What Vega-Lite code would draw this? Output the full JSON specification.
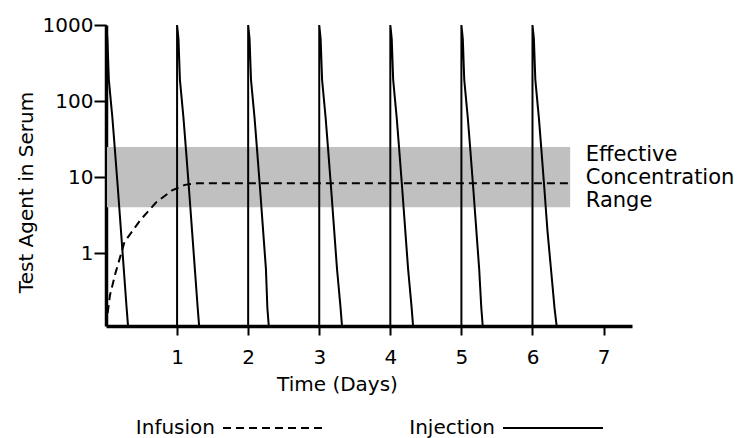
{
  "$schema": "https://vega.github.io/schema/vega-lite/v6.json",
  "width": 526,
  "height": 301,
  "autosize": {"type": "none"},
  "padding": {"left": 106, "top": 25, "right": 105, "bottom": 112},
  "background": "white",
  "config": {
    "view": {"stroke": null},
    "font": "DejaVu Sans",
    "axis": {
      "grid": false,
      "domainColor": "black",
      "domainWidth": 3.5,
      "tickColor": "black",
      "tickWidth": 2,
      "labelFontSize": 20,
      "labelColor": "black",
      "titleFontSize": 20,
      "titleFontWeight": "normal",
      "titleColor": "black"
    }
  },
  "datasets": {
    "band": [{"start": 0, "end": 6.53, "low": 4.0, "high": 24.8}],
    "note": [{"day": 6.75, "value": 19.5, "label": "Effective\nConcentration\nRange"}],
    "curves": [
      {"series": "Infusion", "dose": "I", "day": 0, "value": 0.11},
      {"series": "Infusion", "dose": "I", "day": 0.056, "value": 0.28},
      {"series": "Infusion", "dose": "I", "day": 0.134, "value": 0.55},
      {"series": "Infusion", "dose": "I", "day": 0.26, "value": 1.4},
      {"series": "Infusion", "dose": "I", "day": 0.48, "value": 2.7},
      {"series": "Infusion", "dose": "I", "day": 0.70, "value": 4.6},
      {"series": "Infusion", "dose": "I", "day": 0.93, "value": 6.7},
      {"series": "Infusion", "dose": "I", "day": 1.11, "value": 7.9},
      {"series": "Infusion", "dose": "I", "day": 1.29, "value": 8.3},
      {"series": "Infusion", "dose": "I", "day": 6.53, "value": 8.3},

      {"series": "Injection", "dose": "0", "day": 0, "value": 0.11},
      {"series": "Injection", "dose": "0", "day": 0, "value": 1000},
      {"series": "Injection", "dose": "0", "day": 0.02, "value": 650},
      {"series": "Injection", "dose": "0", "day": 0.04, "value": 190},
      {"series": "Injection", "dose": "0", "day": 0.09, "value": 60},
      {"series": "Injection", "dose": "0", "day": 0.13, "value": 20},
      {"series": "Injection", "dose": "0", "day": 0.17, "value": 6.5},
      {"series": "Injection", "dose": "0", "day": 0.21, "value": 2},
      {"series": "Injection", "dose": "0", "day": 0.25, "value": 0.62},
      {"series": "Injection", "dose": "0", "day": 0.29, "value": 0.19},
      {"series": "Injection", "dose": "0", "day": 0.31, "value": 0.11},

      {"series": "Injection", "dose": "1", "day": 1, "value": 0.11},
      {"series": "Injection", "dose": "1", "day": 1, "value": 1000},
      {"series": "Injection", "dose": "1", "day": 1.02, "value": 650},
      {"series": "Injection", "dose": "1", "day": 1.04, "value": 190},
      {"series": "Injection", "dose": "1", "day": 1.09, "value": 60},
      {"series": "Injection", "dose": "1", "day": 1.13, "value": 20},
      {"series": "Injection", "dose": "1", "day": 1.17, "value": 6.5},
      {"series": "Injection", "dose": "1", "day": 1.21, "value": 2},
      {"series": "Injection", "dose": "1", "day": 1.25, "value": 0.62},
      {"series": "Injection", "dose": "1", "day": 1.29, "value": 0.19},
      {"series": "Injection", "dose": "1", "day": 1.31, "value": 0.11},

      {"series": "Injection", "dose": "2", "day": 2, "value": 0.11},
      {"series": "Injection", "dose": "2", "day": 2, "value": 1000},
      {"series": "Injection", "dose": "2", "day": 2.02, "value": 650},
      {"series": "Injection", "dose": "2", "day": 2.04, "value": 190},
      {"series": "Injection", "dose": "2", "day": 2.09, "value": 60},
      {"series": "Injection", "dose": "2", "day": 2.13, "value": 20},
      {"series": "Injection", "dose": "2", "day": 2.17, "value": 6.5},
      {"series": "Injection", "dose": "2", "day": 2.21, "value": 2},
      {"series": "Injection", "dose": "2", "day": 2.25, "value": 0.62},
      {"series": "Injection", "dose": "2", "day": 2.27, "value": 0.19},
      {"series": "Injection", "dose": "2", "day": 2.29, "value": 0.11},

      {"series": "Injection", "dose": "3", "day": 3, "value": 0.11},
      {"series": "Injection", "dose": "3", "day": 3, "value": 1000},
      {"series": "Injection", "dose": "3", "day": 3.02, "value": 650},
      {"series": "Injection", "dose": "3", "day": 3.04, "value": 190},
      {"series": "Injection", "dose": "3", "day": 3.09, "value": 60},
      {"series": "Injection", "dose": "3", "day": 3.13, "value": 20},
      {"series": "Injection", "dose": "3", "day": 3.17, "value": 6.5},
      {"series": "Injection", "dose": "3", "day": 3.21, "value": 2},
      {"series": "Injection", "dose": "3", "day": 3.25, "value": 0.62},
      {"series": "Injection", "dose": "3", "day": 3.30, "value": 0.19},
      {"series": "Injection", "dose": "3", "day": 3.32, "value": 0.11},

      {"series": "Injection", "dose": "4", "day": 4, "value": 0.11},
      {"series": "Injection", "dose": "4", "day": 4, "value": 1000},
      {"series": "Injection", "dose": "4", "day": 4.02, "value": 650},
      {"series": "Injection", "dose": "4", "day": 4.04, "value": 190},
      {"series": "Injection", "dose": "4", "day": 4.09, "value": 60},
      {"series": "Injection", "dose": "4", "day": 4.13, "value": 20},
      {"series": "Injection", "dose": "4", "day": 4.17, "value": 6.5},
      {"series": "Injection", "dose": "4", "day": 4.21, "value": 2},
      {"series": "Injection", "dose": "4", "day": 4.25, "value": 0.62},
      {"series": "Injection", "dose": "4", "day": 4.30, "value": 0.19},
      {"series": "Injection", "dose": "4", "day": 4.32, "value": 0.11},

      {"series": "Injection", "dose": "5", "day": 5, "value": 0.11},
      {"series": "Injection", "dose": "5", "day": 5, "value": 1000},
      {"series": "Injection", "dose": "5", "day": 5.02, "value": 650},
      {"series": "Injection", "dose": "5", "day": 5.04, "value": 190},
      {"series": "Injection", "dose": "5", "day": 5.09, "value": 60},
      {"series": "Injection", "dose": "5", "day": 5.13, "value": 20},
      {"series": "Injection", "dose": "5", "day": 5.17, "value": 6.5},
      {"series": "Injection", "dose": "5", "day": 5.21, "value": 2},
      {"series": "Injection", "dose": "5", "day": 5.25, "value": 0.62},
      {"series": "Injection", "dose": "5", "day": 5.28, "value": 0.19},
      {"series": "Injection", "dose": "5", "day": 5.30, "value": 0.11},

      {"series": "Injection", "dose": "6", "day": 6, "value": 0.11},
      {"series": "Injection", "dose": "6", "day": 6, "value": 1000},
      {"series": "Injection", "dose": "6", "day": 6.02, "value": 650},
      {"series": "Injection", "dose": "6", "day": 6.04, "value": 190},
      {"series": "Injection", "dose": "6", "day": 6.09, "value": 60},
      {"series": "Injection", "dose": "6", "day": 6.13, "value": 20},
      {"series": "Injection", "dose": "6", "day": 6.17, "value": 6.5},
      {"series": "Injection", "dose": "6", "day": 6.21, "value": 2},
      {"series": "Injection", "dose": "6", "day": 6.26, "value": 0.62},
      {"series": "Injection", "dose": "6", "day": 6.31, "value": 0.19},
      {"series": "Injection", "dose": "6", "day": 6.34, "value": 0.11}
    ]
  },
  "layer": [
    {
      "data": {"name": "band"},
      "mark": {"type": "rect", "color": "#c0c0c0"},
      "encoding": {
        "x": {
          "field": "start",
          "type": "quantitative",
          "scale": {"domain": [0, 7.4], "nice": false, "zero": false},
          "axis": {
            "values": [1, 2, 3, 4, 5, 6, 7],
            "format": "d",
            "title": "Time (Days)",
            "tickSize": 9,
            "labelPadding": 12,
            "titleX": 231,
            "titleY": 58,
            "titleBaseline": "middle"
          }
        },
        "x2": {"field": "end"},
        "y": {
          "field": "low",
          "type": "quantitative",
          "scale": {"type": "log", "domain": [0.11, 1000], "nice": false},
          "axis": {
            "values": [1, 10, 100, 1000],
            "format": "d",
            "title": "Test Agent in Serum",
            "tickSize": 12,
            "labelPadding": 1,
            "titleX": -80,
            "titleY": 167,
            "titleBaseline": "middle"
          }
        },
        "y2": {"field": "high"}
      }
    },
    {
      "data": {"name": "curves"},
      "mark": {"type": "line", "color": "black", "strokeWidth": 2},
      "encoding": {
        "x": {"field": "day", "type": "quantitative"},
        "y": {"field": "value", "type": "quantitative"},
        "detail": {"field": "dose"},
        "strokeDash": {
          "field": "series",
          "type": "nominal",
          "scale": {"domain": ["Infusion", "Injection"], "range": [[8, 5], [1, 0]]},
          "legend": {
            "orient": "none",
            "legendX": 116,
            "legendY": 352,
            "direction": "horizontal",
            "title": null,
            "symbolType": "stroke",
            "symbolSize": 10000,
            "symbolStrokeWidth": 2,
            "symbolStrokeColor": "black",
            "symbolOpacity": 1,
            "labelFontSize": 20,
            "labelColor": "black",
            "labelAlign": "right",
            "labelOffset": -109,
            "labelLimit": 300,
            "columnPadding": 82
          }
        }
      }
    },
    {
      "data": {"name": "note"},
      "mark": {"type": "text", "align": "left", "baseline": "middle", "fontSize": 21, "lineHeight": 23, "lineBreak": "\n", "color": "black"},
      "encoding": {
        "x": {"field": "day", "type": "quantitative"},
        "y": {"field": "value", "type": "quantitative"},
        "text": {"field": "label"}
      }
    }
  ]
}
